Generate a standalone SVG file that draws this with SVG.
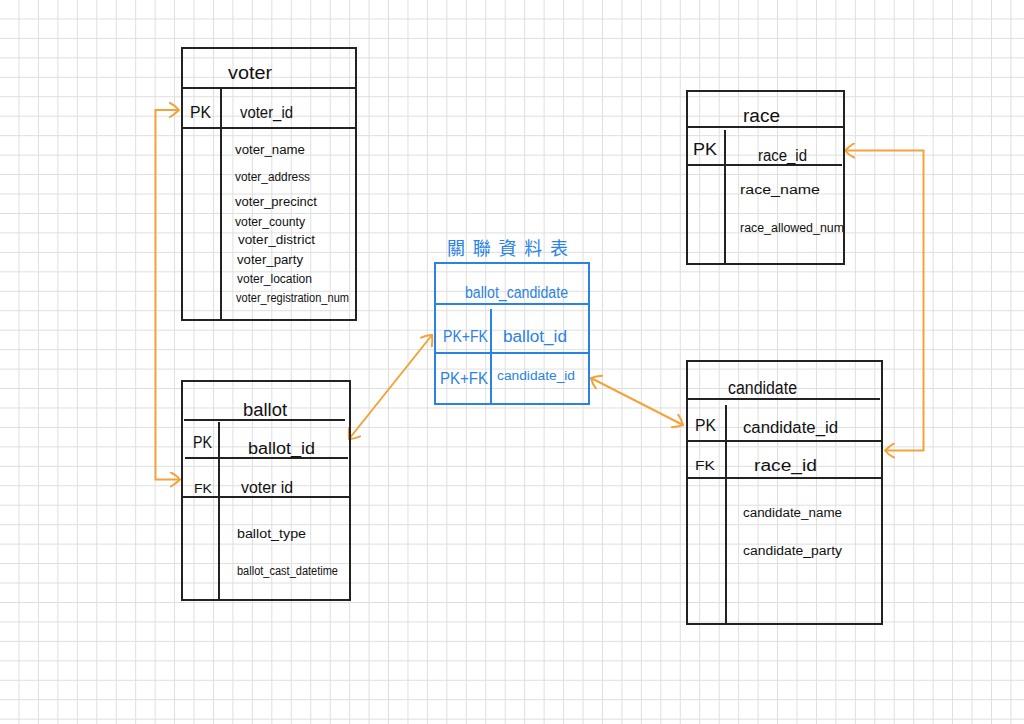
<svg xmlns="http://www.w3.org/2000/svg" width="1024" height="724" viewBox="0 0 1024 724">
<defs>
<pattern id="grid" x="0" y="0" width="19.45" height="19.45" patternUnits="userSpaceOnUse">
<path d="M19 0V19.45M0 19H19.45" fill="none" stroke="#dedede" stroke-width="1"/>
</pattern>
<marker id="chev" viewBox="0 0 12 16" refX="11" refY="8" markerWidth="12" markerHeight="16" markerUnits="userSpaceOnUse" orient="auto-start-reverse">
<path d="M2 1Q8 4 11 8Q7 12 2 15" fill="none" stroke="#f2a33a" stroke-width="2" stroke-linecap="round"/>
</marker>
</defs>
<style>
.tb{fill:none;stroke:#222;stroke-width:2}
.bl{fill:none;stroke:#2a82e4;stroke-width:2}
.t{font-family:"Liberation Sans","Noto Sans",sans-serif;fill:#111}
.h{font-size:18px}
.k{font-size:16px}
.a{font-size:12px}
.b{fill:#2a82e4}
.cn{fill:none;stroke:#f2a33a;stroke-width:2;marker-start:url(#chev);marker-end:url(#chev)}
</style>
<rect width="1024" height="724" fill="#ffffff"/>
<rect width="1024" height="724" fill="url(#grid)"/>

<g id="connectors">
<path class="cn" d="M179 110H155.5V479.5H180"/>
<path class="cn" d="M845 150.5H923.5V450.5H885"/>
<path class="cn" d="M349 439L432 335"/>
<path class="cn" d="M591 378L683 425"/>
</g>

<g id="voter">
<rect class="tb" x="182" y="48" width="174" height="272"/>
<path class="tb" d="M182 88H356M221 88V320M182 128H356"/>
<text class="t h" x="228" y="79" textLength="44" lengthAdjust="spacingAndGlyphs">voter</text>
<text class="t k" x="190" y="118" textLength="21" lengthAdjust="spacingAndGlyphs">PK</text>
<text class="t k" x="240" y="118" textLength="53" lengthAdjust="spacingAndGlyphs">voter_id</text>
<text class="t a" x="235" y="154" textLength="70" lengthAdjust="spacingAndGlyphs">voter_name</text>
<text class="t a" x="235" y="181" textLength="75" lengthAdjust="spacingAndGlyphs">voter_address</text>
<text class="t a" x="235" y="206" textLength="82" lengthAdjust="spacingAndGlyphs">voter_precinct</text>
<text class="t a" x="235" y="226" textLength="70" lengthAdjust="spacingAndGlyphs">voter_county</text>
<text class="t a" x="238" y="244" textLength="77" lengthAdjust="spacingAndGlyphs">voter_district</text>
<text class="t a" x="237" y="264" textLength="66" lengthAdjust="spacingAndGlyphs">voter_party</text>
<text class="t a" x="237" y="283" textLength="75" lengthAdjust="spacingAndGlyphs">voter_location</text>
<text class="t a" x="236" y="302" textLength="113" lengthAdjust="spacingAndGlyphs">voter_registration_num</text>
</g>

<g id="ballot">
<rect class="tb" x="182" y="381" width="168" height="219"/>
<path class="tb" d="M184 420H345M219 422V600M185 458H348M182 497H350"/>
<text class="t h" x="243" y="416" textLength="44" lengthAdjust="spacingAndGlyphs">ballot</text>
<text class="t k" x="193" y="448" textLength="19" lengthAdjust="spacingAndGlyphs">PK</text>
<text class="t k" x="248" y="454" textLength="67" lengthAdjust="spacingAndGlyphs">ballot_id</text>
<text class="t a" x="194" y="493" textLength="18" lengthAdjust="spacingAndGlyphs">FK</text>
<text class="t k" x="241" y="493" textLength="52" lengthAdjust="spacingAndGlyphs">voter id</text>
<text class="t a" x="237" y="538" textLength="69" lengthAdjust="spacingAndGlyphs">ballot_type</text>
<text class="t a" x="237" y="575" textLength="101" lengthAdjust="spacingAndGlyphs">ballot_cast_datetime</text>
</g>

<g id="ballot_candidate">
<text class="t b" x="447" y="255" font-size="18" textLength="121" lengthAdjust="spacing" font-family="'Noto Sans CJK TC','Noto Sans CJK SC',sans-serif" style="font-family:'Noto Sans CJK TC','Noto Sans CJK SC',sans-serif">關聯資料表</text>
<rect class="bl" x="435" y="263" width="154" height="141"/>
<path class="bl" d="M435 304H589M491 309V404M435 353H589"/>
<text class="t b k" x="465" y="298" textLength="103" lengthAdjust="spacingAndGlyphs">ballot_candidate</text>
<text class="t b k" x="443" y="342" textLength="45" lengthAdjust="spacingAndGlyphs">PK+FK</text>
<text class="t b k" x="503" y="342" textLength="64" lengthAdjust="spacingAndGlyphs">ballot_id</text>
<text class="t b k" x="440" y="384" textLength="48" lengthAdjust="spacingAndGlyphs">PK+FK</text>
<text class="t b a" x="497" y="380" textLength="78" lengthAdjust="spacingAndGlyphs">candidate_id</text>
</g>

<g id="race">
<rect class="tb" x="687" y="91" width="157" height="173"/>
<path class="tb" d="M687 127H844M725 130V264M687 165H842"/>
<text class="t h" x="743" y="122" textLength="37" lengthAdjust="spacingAndGlyphs">race</text>
<text class="t k" x="693" y="155" textLength="24" lengthAdjust="spacingAndGlyphs">PK</text>
<text class="t k" x="758" y="161" textLength="49" lengthAdjust="spacingAndGlyphs">race_id</text>
<text class="t a" x="740" y="194" textLength="80" lengthAdjust="spacingAndGlyphs">race_name</text>
<text class="t a" x="740" y="232" textLength="104" lengthAdjust="spacingAndGlyphs">race_allowed_num</text>
</g>

<g id="candidate">
<rect class="tb" x="687" y="361" width="195" height="263"/>
<path class="tb" d="M687 399H880M726 405V624M687 441H882M687 478H882"/>
<text class="t h" x="728" y="394" textLength="69" lengthAdjust="spacingAndGlyphs">candidate</text>
<text class="t k" x="695" y="431" textLength="21" lengthAdjust="spacingAndGlyphs">PK</text>
<text class="t k" x="743" y="433" textLength="95" lengthAdjust="spacingAndGlyphs">candidate_id</text>
<text class="t a" x="695" y="470" textLength="20" lengthAdjust="spacingAndGlyphs">FK</text>
<text class="t k" x="754" y="471" textLength="63" lengthAdjust="spacingAndGlyphs">race_id</text>
<text class="t a" x="743" y="517" textLength="99" lengthAdjust="spacingAndGlyphs">candidate_name</text>
<text class="t a" x="743" y="555" textLength="99" lengthAdjust="spacingAndGlyphs">candidate_party</text>
</g>
</svg>
